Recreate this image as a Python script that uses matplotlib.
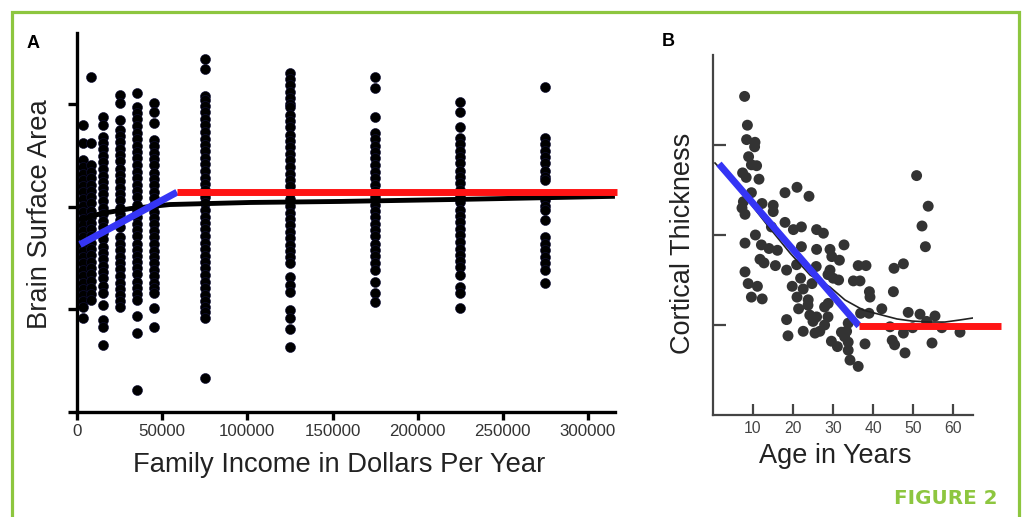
import matplotlib
matplotlib.use("Agg")
import matplotlib.pyplot as plt
from matplotlib.lines import Line2D

plt.rcParams['font.family'] = ['Liberation Sans', 'DejaVu Sans']

# ---------------- Panel A data (income columns, brain surface area, arbitrary units) ----------
incomeA_cols = [3500, 8500, 15000, 25000, 35000, 45000, 75000, 125000, 175000, 225000, 275000]
areaA_cols = [
    [279, 262, 245, 239, 232, 226, 220, 214, 207, 201, 195, 188, 182, 176, 170, 163, 157, 151, 145, 138, 132, 126, 120, 114, 108, 102, 92],
    [326, 262, 240, 234, 228, 221, 215, 209, 203, 196, 190, 184, 178, 171, 165, 159, 153, 146, 140, 134, 128, 121, 115, 109],
    [287, 279, 268, 262, 256, 249, 243, 237, 230, 224, 218, 212, 205, 199, 193, 186, 180, 174, 168, 161, 155, 149, 142, 136, 130, 123, 116, 104, 90, 83, 65],
    [309, 301, 284, 275, 269, 263, 256, 250, 244, 237, 231, 225, 218, 212, 206, 199, 193, 187, 180, 170, 164, 158, 151, 145, 139, 132, 126, 120, 114, 108, 102],
    [311, 297, 291, 285, 278, 272, 266, 259, 253, 247, 240, 234, 228, 221, 215, 209, 202, 196, 190, 183, 177, 171, 164, 158, 152, 146, 140, 134, 127, 121, 115, 109, 93, 77, 21],
    [301, 292, 281, 265, 259, 252, 246, 240, 233, 227, 221, 214, 208, 202, 195, 189, 183, 176, 170, 164, 157, 151, 145, 138, 132, 126, 121, 116, 101, 83],
    [344, 334, 308, 304, 298, 292, 285, 279, 273, 266, 260, 254, 247, 241, 235, 228, 222, 216, 209, 203, 197, 190, 184, 178, 171, 165, 159, 152, 146, 140, 133, 127, 121, 114, 108, 102, 97, 92, 33],
    [330, 324, 318, 312, 306, 300, 297, 289, 283, 277, 270, 264, 258, 251, 245, 239, 232, 226, 220, 213, 207, 201, 194, 188, 182, 175, 169, 163, 157, 151, 145, 131, 124, 117, 99, 92, 81, 63],
    [326, 315, 287, 272, 266, 259, 253, 247, 240, 234, 228, 221, 215, 209, 202, 196, 190, 183, 177, 171, 164, 158, 152, 145, 138, 127, 116, 107],
    [302, 292, 277, 267, 261, 254, 248, 242, 235, 229, 223, 216, 210, 204, 197, 191, 185, 178, 172, 166, 159, 153, 147, 141, 133, 122, 116, 101],
    [316, 267, 261, 254, 248, 242, 235, 229, 226, 206, 201, 197, 187, 170, 164, 158, 151, 145, 138, 126],
]
curveA_x = [1760, 13500, 31100, 54600, 101600, 154400, 224800, 315800]
curveA_y = [187, 193, 198, 202, 204, 205, 207, 210]
blueA_x = [1760, 58700]
blueA_y = [163, 214]
redA_x = [58700, 317000]
redA_y = [214, 214]
xticksA = [0, 50000, 100000, 150000, 200000, 250000, 300000]
yticksA = [0, 100, 200, 300]

# ---------------- Panel B data (age, cortical thickness, arbitrary units) ----------------
ageB = [7.9, 8.6, 8.4, 10.5, 10.4, 8.9, 9.6, 10.9, 7.4, 8.3, 11.5, 9.6, 18.0, 21.0, 24.0,
        7.6, 7.25, 8.0, 12.25, 15.05, 15.05, 18.0, 20.1, 22.1, 25.9, 27.6, 10.6, 14.6,
        8.0, 12.1, 14.0, 16.1, 22.1, 25.9, 29.25, 32.75, 29.7, 31.6, 11.75, 12.75, 15.6,
        18.4, 20.9, 8.0, 25.8, 29.25, 8.8, 11.1, 9.6, 12.3, 19.8, 21.9, 22.55, 24.75, 23.8,
        28.75, 30.05, 31.4, 21.4, 23.75, 24.2, 25.0, 27.9, 28.75, 18.4, 18.75, 22.55, 26.7,
        27.9, 25.5, 25.9, 28.8, 29.6, 31.1, 32.1, 32.9, 33.4, 33.8, 33.8, 34.25, 36.3, 33.8,
        36.3, 38.25, 35.1, 36.75, 39.1, 39.25, 36.9, 39.0, 38.0, 42.2, 45.1, 45.25, 47.6,
        48.8, 51.75, 55.5, 44.8, 45.4, 47.6, 48.0, 49.9, 53.4, 57.2, 61.75, 54.75, 44.25,
        50.9, 53.8, 52.25, 53.1, 21.0]
thickB = [3.54, 3.22, 3.06, 3.03, 2.98, 2.87, 2.78, 2.77, 2.69, 2.64, 2.62, 2.47, 2.47, 2.53, 2.43,
          2.37, 2.30, 2.23, 2.35, 2.33, 2.26, 2.14, 2.06, 2.09, 2.06, 2.02, 2.00, 2.09,
          1.91, 1.89, 1.85, 1.83, 1.87, 1.84, 1.84, 1.89, 1.76, 1.72, 1.73, 1.69, 1.66,
          1.61, 1.67, 1.59, 1.65, 1.61, 1.46, 1.43, 1.31, 1.29, 1.43, 1.52, 1.40, 1.46, 1.28,
          1.56, 1.52, 1.50, 1.18, 1.22, 1.11, 1.04, 1.20, 1.09, 1.06, 0.88, 0.93, 0.93,
          1.00, 0.91, 1.09, 1.24, 0.82, 0.76, 0.92, 0.87, 0.93, 0.81, 0.72, 0.61, 0.54, 1.02,
          1.66, 1.66, 1.49, 1.49, 1.37, 1.31, 1.13, 1.13, 0.79, 1.18, 1.37, 1.63, 1.68,
          1.14, 1.12, 1.10, 0.83, 0.78, 0.91, 0.69, 0.97, 1.04, 0.97, 0.92, 0.80, 0.98,
          2.66, 2.32, 2.10, 1.87, 1.31]
curveB_x = [0.5, 6.75, 13.75, 19.25, 24.25, 29.25, 33.0, 37.5, 41.25, 46.0, 49.75, 54.25, 58.0, 61.75, 65.0]
curveB_y = [2.80, 2.50, 2.10, 1.80, 1.556, 1.422, 1.278, 1.167, 1.122, 1.067, 1.044, 1.033, 1.033, 1.056, 1.078]
blueB_x = [1.5, 36.5]
blueB_y = [2.79, 0.99]
redB_x = [36.5, 72.0]
redB_y = [0.99, 0.99]
xticksB = [10, 20, 30, 40, 50, 60]
yticksB = [1, 2, 3]

W, H = 1022, 517
fig = plt.figure(figsize=(W / 100, H / 100), dpi=100)
fig.patch.set_facecolor('white')

def fx(px):
    return px / W

def fy(py):
    return 1 - py / H

# ---------------- Panel A ----------------
axA = fig.add_axes([fx(77), fy(412), fx(615) - fx(77), fy(33) - fy(412)])
for xv, ys in zip(incomeA_cols, areaA_cols):
    axA.scatter([xv] * len(ys), ys, s=52, color='black', edgecolors='#10103a', linewidths=0.4, zorder=2)
axA.plot(curveA_x, curveA_y, color='black', lw=3.5, zorder=3, solid_capstyle='butt')
axA.plot(blueA_x, blueA_y, color='#3535f5', lw=5, zorder=4, solid_capstyle='butt')
axA.plot(redA_x, redA_y, color='#ff1414', lw=5, zorder=4, solid_capstyle='butt', clip_on=False)
axA.set_xlim(0, 315850)
axA.set_ylim(0, 369)
axA.set_xticks(xticksA)
axA.set_xticklabels([str(v) for v in xticksA])
axA.set_yticks(yticksA)
axA.set_yticklabels([])
for s in ['top', 'right']:
    axA.spines[s].set_visible(False)
for s in ['left', 'bottom']:
    axA.spines[s].set_linewidth(2.4)
    axA.spines[s].set_color('black')
axA.tick_params(axis='x', direction='out', length=5.8, width=2.4, color='black',
                labelsize=12.2, labelcolor='#333333', pad=3)
axA.tick_params(axis='y', direction='out', length=6.5, width=2.4, color='black')

# ---------------- Panel B ----------------
axB = fig.add_axes([fx(713), fy(415), fx(973) - fx(713), fy(55) - fy(415)])
axB.scatter(ageB, thickB, s=62, color='#333333', edgecolors='none', zorder=2)
axB.plot(curveB_x, curveB_y, color='#222222', lw=1.2, zorder=3)
axB.plot(blueB_x, blueB_y, color='#3535f5', lw=5, zorder=4, solid_capstyle='butt')
axB.plot(redB_x, redB_y, color='#ff1414', lw=5, zorder=4, solid_capstyle='butt', clip_on=False)
axB.set_xlim(0, 65)
axB.set_ylim(0, 4)
axB.set_xticks(xticksB)
axB.set_xticklabels([str(v) for v in xticksB])
axB.set_yticks(yticksB)
axB.set_yticklabels([])
for s in ['top', 'right']:
    axB.spines[s].set_visible(False)
for s in ['left', 'bottom']:
    axB.spines[s].set_linewidth(1.6)
    axB.spines[s].set_color('#444444')
axB.tick_params(axis='x', direction='in', length=8, width=1.6, color='#444444',
                labelsize=11.3, labelcolor='#444444', pad=4)
axB.tick_params(axis='y', direction='in', length=9, width=1.6, color='#444444')

# ---------------- Labels ----------------
fig.text(fx(339.5), fy(472), 'Family Income in Dollars Per Year', fontsize=19.7,
         ha='center', va='baseline', color='#222222')
fig.text(fx(40), fy(214), 'Brain Surface Area', fontsize=19.7, rotation=90,
         ha='center', va='center', color='#222222')
fig.text(fx(835.5), fy(463), 'Age in Years', fontsize=19.5,
         ha='center', va='baseline', color='#222222')
fig.text(fx(683), fy(243), 'Cortical Thickness', fontsize=19.5, rotation=90,
         ha='center', va='center', color='#222222')
fig.text(fx(33), fy(43), 'A', fontsize=13, fontweight='bold', ha='center', va='center')
fig.text(fx(668), fy(42), 'B', fontsize=13, fontweight='bold', ha='center', va='center')
fig.text(fx(946), fy(499), 'FIGURE 2', fontsize=14.3, fontweight='bold',
         family=['DejaVu Sans'], ha='center', va='center', color='#8DC63F')

# ---------------- Green frame ----------------
green = '#8DC63F'
fig.add_artist(Line2D([fx(11.5), fx(11.5), fx(1018.5), fx(1018.5)],
                      [fy(520), fy(11.5), fy(11.5), fy(520)],
                      color=green, lw=2.3, transform=fig.transFigure, solid_joinstyle='miter'))

fig.savefig('out.png', dpi=100)
